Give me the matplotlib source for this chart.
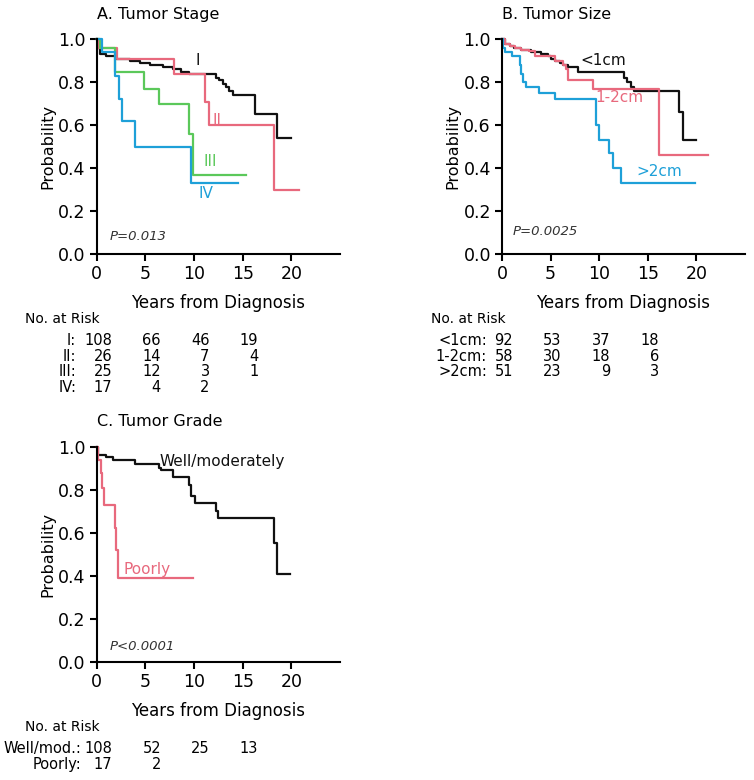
import matplotlib
matplotlib.use('Agg')
from matplotlib import pyplot as plt
from matplotlib import transforms

# colours of the curves
BLACK = '#111111'
RED = '#E8697D'
GREEN = '#5BC85A'
BLUE = '#1EA0D8'

# A. Tumor Stage (years, survival probability)
a_I_t = [0, 0.1, 0.35, 1.0, 2.0, 3.4, 4.4, 5.5, 6.8, 7.8, 8.7, 9.5, 12.3, 12.6, 13.0, 13.3, 13.6, 14.0, 16.3, 18.5, 20.0]
a_I_s = [1.0, 0.96, 0.93, 0.92, 0.91, 0.90, 0.89, 0.88, 0.87, 0.86, 0.85, 0.84, 0.82, 0.81, 0.79, 0.78, 0.76, 0.74, 0.65, 0.54, 0.54]
a_II_t = [0, 0.1, 2.1, 7.9, 11.1, 11.5, 18.2, 20.8]
a_II_s = [1.0, 0.96, 0.91, 0.84, 0.71, 0.60, 0.30, 0.30]
a_III_t = [0, 0.3, 1.9, 4.9, 6.4, 9.5, 9.9, 15.3]
a_III_s = [1.0, 0.96, 0.85, 0.77, 0.70, 0.56, 0.37, 0.37]
a_IV_t = [0, 0.5, 1.9, 2.3, 2.6, 3.9, 9.7, 14.5]
a_IV_s = [1.0, 0.94, 0.83, 0.72, 0.62, 0.50, 0.33, 0.33]

a_risk_labels = ['I:', 'II:', 'III:', 'IV:']
a_risk = [[108, 66, 46, 19], [26, 14, 7, 4], [25, 12, 3, 1], [17, 4, 2]]

# B. Tumor Size
b_lt1_t = [0, 0.3, 0.8, 1.2, 2.0, 3.0, 4.0, 4.7, 5.0, 5.5, 6.0, 6.3, 6.8, 7.8, 12.5, 12.9, 13.3, 13.6, 18.2, 18.6, 20.0]
b_lt1_s = [1.0, 0.98, 0.97, 0.96, 0.95, 0.94, 0.93, 0.92, 0.91, 0.90, 0.89, 0.88, 0.87, 0.85, 0.82, 0.80, 0.78, 0.76, 0.66, 0.53, 0.53]
b_12_t = [0, 0.3, 0.8, 1.3, 2.0, 2.8, 3.4, 5.5, 6.3, 6.6, 6.8, 9.4, 16.2, 21.2]
b_12_s = [1.0, 0.98, 0.97, 0.96, 0.95, 0.945, 0.92, 0.90, 0.88, 0.86, 0.81, 0.77, 0.46, 0.46]
b_gt2_t = [0, 0.1, 0.3, 1.0, 1.8, 2.0, 2.2, 2.5, 3.8, 5.5, 9.7, 10.0, 11.0, 11.4, 12.2, 19.9]
b_gt2_s = [1.0, 0.96, 0.94, 0.92, 0.88, 0.84, 0.80, 0.78, 0.75, 0.72, 0.60, 0.53, 0.47, 0.40, 0.33, 0.33]

b_risk_labels = ['<1cm:', '1-2cm:', '>2cm:']
b_risk = [[92, 53, 37, 18], [58, 30, 18, 6], [51, 23, 9, 3]]

# C. Tumor Grade
c_well_t = [0, 0.1, 1.0, 1.7, 3.9, 6.4, 6.6, 7.8, 9.5, 9.7, 10.05, 12.3, 12.5, 18.2, 18.5, 19.9]
c_well_s = [1.0, 0.96, 0.95, 0.94, 0.92, 0.90, 0.89, 0.86, 0.82, 0.77, 0.74, 0.70, 0.67, 0.55, 0.41, 0.41]
c_poor_t = [0, 0.1, 0.4, 0.5, 0.7, 1.9, 2.0, 2.2, 9.9]
c_poor_s = [1.0, 0.94, 0.88, 0.81, 0.73, 0.62, 0.52, 0.39, 0.39]

c_risk_labels = ['Well/mod.:', 'Poorly:']
c_risk = [[108, 52, 25, 13], [17, 2]]

risk_times = [0, 5, 10, 15]


def setup_axes(ax, title):
    ax.set_xlim(0, 25)
    ax.set_ylim(0, 1)
    ax.spines['top'].set_visible(False)
    ax.spines['right'].set_visible(False)
    ax.spines['left'].set_linewidth(1.5)
    ax.spines['bottom'].set_linewidth(1.5)
    ax.set_xticks([0, 5, 10, 15, 20])
    ax.set_yticks([0, 0.2, 0.4, 0.6, 0.8, 1.0])
    ax.set_yticklabels(['0.0', '0.2', '0.4', '0.6', '0.8', '1.0'])
    ax.tick_params(length=5, width=1.5, labelsize=12.5, pad=3)
    ax.set_ylabel('Probability', fontsize=11.5, labelpad=2)
    ax.set_xlabel('Years from Diagnosis', fontsize=12, labelpad=8)
    ax.text(0, 1.117, title, transform=ax.transAxes, fontsize=11.5, ha='left', va='center')


def km(ax, t, s, color, lw=1.6):
    ax.step(t, s, where='post', color=color, lw=lw, clip_on=False)


def risk_table(ax, labels, rows, lab_x, num_off):
    trans = transforms.blended_transform_factory(ax.transData, ax.transAxes)
    ax.text(-7.35, -0.303, 'No. at Risk', transform=trans, fontsize=10, ha='left', va='center')
    for i, (lab, row) in enumerate(zip(labels, rows)):
        y = -0.405 - 0.072 * i
        ax.text(lab_x, y, lab, transform=trans, fontsize=10.5, ha='right', va='center')
        for tt, n in zip(risk_times, row):
            ax.text(tt + num_off, y, str(n), transform=trans, fontsize=10.5, ha='right', va='center')


fig = plt.figure(figsize=(7.54, 7.80), dpi=100)
axA = fig.add_axes([0.1283, 0.6744, 0.3226, 0.2752])
axB = fig.add_axes([0.6658, 0.6744, 0.3223, 0.2752])
axC = fig.add_axes([0.1283, 0.1517, 0.3226, 0.2756])

# panel A
setup_axes(axA, 'A. Tumor Stage')
km(axA, a_I_t, a_I_s, BLACK)
km(axA, a_II_t, a_II_s, RED)
km(axA, a_III_t, a_III_s, GREEN)
km(axA, a_IV_t, a_IV_s, BLUE)
axA.text(10.4, 0.90, 'I', color=BLACK, fontsize=11, ha='center', va='center')
axA.text(12.4, 0.62, 'II', color=RED, fontsize=11, ha='center', va='center')
axA.text(11.65, 0.43, 'III', color=GREEN, fontsize=11, ha='center', va='center')
axA.text(11.2, 0.28, 'IV', color=BLUE, fontsize=11, ha='center', va='center')
axA.text(1.3, 0.08, 'P=0.013', fontsize=9.5, style='italic', color='#333333', ha='left', va='center')
risk_table(axA, a_risk_labels, a_risk, -2.1, 1.6)

# panel B
setup_axes(axB, 'B. Tumor Size')
km(axB, b_lt1_t, b_lt1_s, BLACK)
km(axB, b_12_t, b_12_s, RED)
km(axB, b_gt2_t, b_gt2_s, BLUE)
axB.text(10.4, 0.90, '<1cm', color=BLACK, fontsize=11, ha='center', va='center')
axB.text(12.1, 0.73, '1-2cm', color=RED, fontsize=11, ha='center', va='center')
axB.text(16.2, 0.385, '>2cm', color=BLUE, fontsize=11, ha='center', va='center')
axB.text(1.1, 0.104, 'P=0.0025', fontsize=9.5, style='italic', color='#333333', ha='left', va='center')
risk_table(axB, b_risk_labels, b_risk, -1.55, 1.13)

# panel C
setup_axes(axC, 'C. Tumor Grade')
km(axC, c_well_t, c_well_s, BLACK)
km(axC, c_poor_t, c_poor_s, RED)
axC.text(6.5, 0.93, 'Well/moderately', color=BLACK, fontsize=11, ha='left', va='center')
axC.text(2.7, 0.43, 'Poorly', color=RED, fontsize=11, ha='left', va='center')
axC.text(1.3, 0.07, 'P<0.0001', fontsize=9.5, style='italic', color='#333333', ha='left', va='center')
risk_table(axC, c_risk_labels, c_risk, -1.6, 1.6)

fig.savefig('out.png', dpi=100)
